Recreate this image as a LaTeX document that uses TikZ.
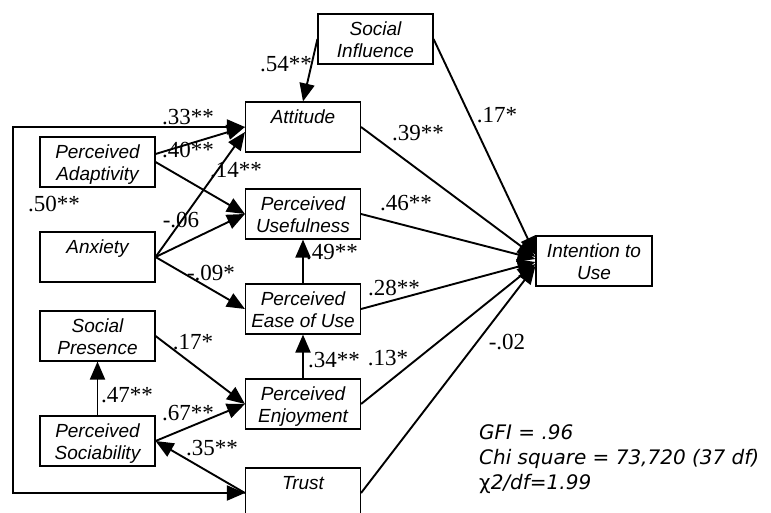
\documentclass[tikz,border=0pt]{standalone}
\usepackage{fontspec}
\setsansfont{Liberation Sans}
\newfontfamily\lblfont{Liberation Serif}
\newfontfamily\statfont{DejaVu Sans}
\usetikzlibrary{arrows.meta}
\newcommand{\twoline}[2]{\rule{0pt}{15pt}#1\\\rule{0pt}{15pt}\smash{#2}}
\tikzset{
  box/.style={draw, line width=1.1pt, minimum width=115pt, minimum height=50pt, inner sep=0pt, align=center, font=\sffamily\itshape\fontsize{19}{22}\selectfont},
  arr/.style={line width=1.9pt, -{Triangle[length=18pt,width=15pt]}},
  dblarr/.style={line width=1.9pt, {Triangle[length=18pt,width=15pt]}-{Triangle[length=18pt,width=15pt]}},
  lbl/.style={inner sep=0pt, font=\lblfont\fontsize{23}{26}\selectfont}
}
\begin{document}
\begin{tikzpicture}[x=1pt, y=-1pt]
\useasboundingbox (0,0) rectangle (771,513);
\clip (0,0) rectangle (771,513);

\node[box] (SocInf) at (375.5,39) {\twoline{Social}{Influence}};
\node[box] (Att) at (303,127) {\twoline{Attitude}{}};
\node[box] (PAdapt) at (97.5,162) {\twoline{Perceived}{Adaptivity}};
\node[box] (PUse) at (303,214) {\twoline{Perceived}{Usefulness}};
\node[box] (Anx) at (97.5,257) {\twoline{Anxiety}{}};
\node[box] (PEase) at (303,309) {\twoline{Perceived}{Ease of Use}};
\node[box] (SocPres) at (97.5,336) {\twoline{Social}{Presence}};
\node[box] (PEnj) at (303,404) {\twoline{Perceived}{Enjoyment}};
\node[box] (PSoc) at (97.5,441) {\twoline{Perceived}{Sociability}};
\node[box] (Trust) at (303,493) {\twoline{Trust}{}};
\node[box, minimum width=116pt] (Int) at (594,261) {\twoline{Intention to}{Use}};

\coordinate (LoopTop) at (13,127);
\coordinate (LoopBot) at (13,493);

\draw[arr] (SocInf.west) -- (Att.north);
\draw[arr] ([yshift=8pt]PAdapt.east) -- (Att.west);
\draw[arr] (Anx.east) -- ([yshift=-5pt]Att.west);
\draw[arr] (PAdapt.east) -- (PUse.west);
\draw[arr] (Anx.east) -- (PUse.west);
\draw[arr] (Anx.east) -- (PEase.west);
\draw[arr] (PEase.north) -- (PUse.south);
\draw[arr] (PEnj.north) -- (PEase.south);
\draw[arr] (SocPres.east) -- (PEnj.west);
\draw[arr] (PSoc.east) -- (PEnj.west);
\draw[arr] (PSoc.north) -- (SocPres.south);
\draw[arr] (Trust.west) -- (PSoc.east);
\draw[dblarr] (Att.west) -- (LoopTop) -- (LoopBot) -- (Trust.west);

\draw[arr] (SocInf.east) -- ([yshift=6pt]Int.west);
\draw[arr] (Att.east) -- ([yshift=4pt]Int.west);
\draw[arr] (PUse.east) -- ([yshift=2pt]Int.west);
\draw[arr] (PEase.east) -- ([yshift=-1pt]Int.west);
\draw[arr] (PEnj.east) -- ([yshift=-3pt]Int.west);
\draw[arr] (Trust.east) -- ([yshift=-5pt]Int.west);

\node[lbl] (L54) at (286,64) {.54**};
\node[lbl] (L33) at (188,117) {.33**};
\node[lbl] (L40) at (188,150) {.40**};
\node[lbl] (L14) at (236,170) {.14**};
\node[lbl] (L50) at (54,204) {.50**};
\node[lbl] (L06) at (181,220) {-.06};
\node[lbl] (L09) at (211,273) {-.09*};
\node[lbl] (L49) at (332,252) {.49**};
\node[lbl] (L28) at (394,288) {.28**};
\node[lbl] (L34) at (334,360) {.34**};
\node[lbl] (L13) at (388,358) {.13*};
\node[lbl] (L17b) at (193,342) {.17*};
\node[lbl] (L47) at (127,395) {.47**};
\node[lbl] (L67) at (188,413) {.67**};
\node[lbl] (L35) at (212,448) {.35**};
\node[lbl] (L39) at (418,133) {.39**};
\node[lbl] (L17a) at (497,115) {.17*};
\node[lbl] (L46) at (406,203) {.46**};
\node[lbl] (L02) at (507,342) {-.02};

\node[anchor=north west, inner sep=0pt, align=left, font=\statfont\itshape\fontsize{20}{25}\selectfont] (Fit) at (479,424) {GFI = .96\\Chi square = 73,720 (37 df)\\{\upshape χ}2/df=1.99};
\end{tikzpicture}
\end{document}
